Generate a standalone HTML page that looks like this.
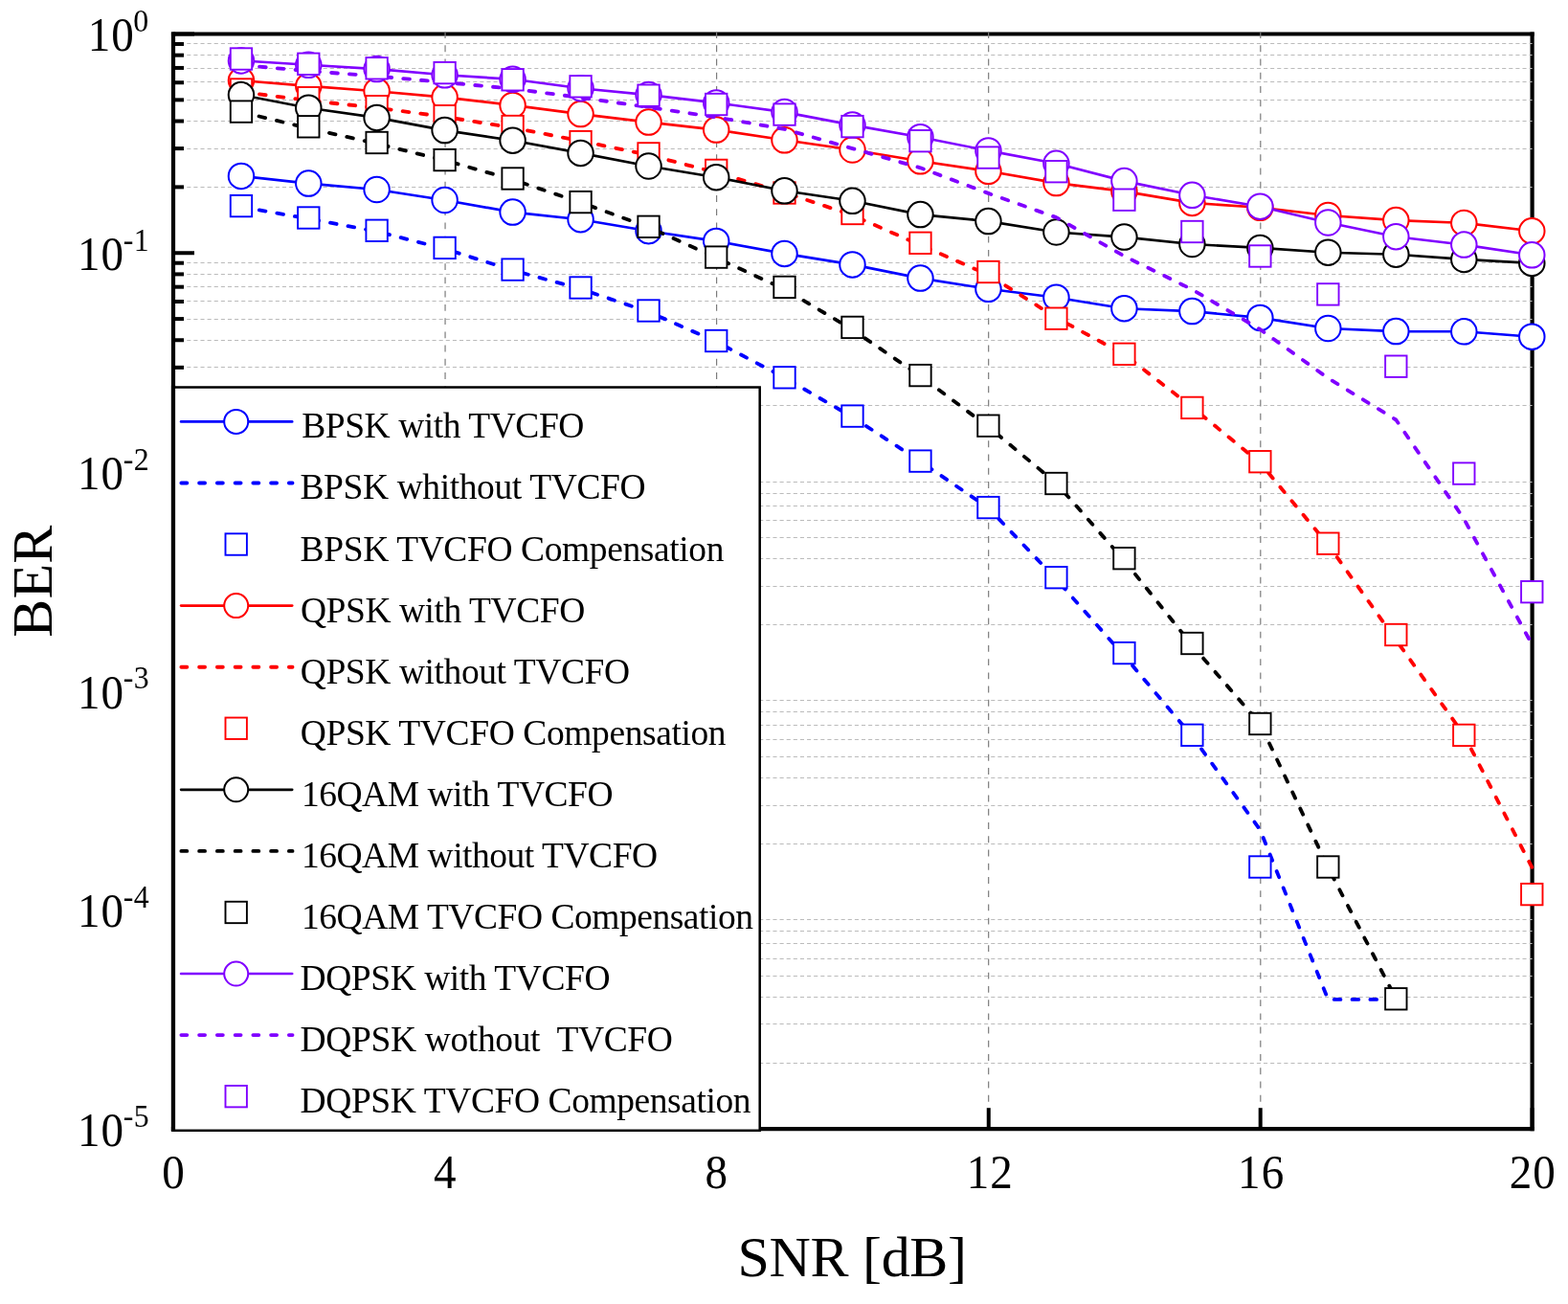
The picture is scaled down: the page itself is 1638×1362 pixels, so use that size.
<!DOCTYPE html>
<html lang="en">
<head>
<meta charset="utf-8">
<title>BER vs SNR</title>
<style>
html,body{margin:0;padding:0;background:#fff;}
body{width:1638px;height:1362px;overflow:hidden;position:relative;}
svg text{font-family:"Liberation Serif","Times New Roman",serif;fill:#000;white-space:pre;}
</style>
</head>
<body>
<svg width="1638" height="1362" viewBox="0 0 1638 1362" style="position:absolute;left:0;top:0;display:block">
<rect x="0" y="0" width="1638" height="1362" fill="#ffffff"/>
<g stroke="#000" stroke-width="4.2" fill="none" stroke-linecap="square">
<line x1="181.0" y1="35.5" x2="1600.6" y2="35.5"/>
<line x1="1600.6" y1="35.5" x2="1600.6" y2="1179.2"/>
</g>
<g stroke="#bbbbbb" stroke-width="1" fill="none" stroke-dasharray="4.1 3.0186">
<line x1="195.24" y1="195.50" x2="1600.6" y2="195.50"/>
<line x1="195.24" y1="155.50" x2="1600.6" y2="155.50"/>
<line x1="195.24" y1="126.50" x2="1600.6" y2="126.50"/>
<line x1="195.24" y1="104.50" x2="1600.6" y2="104.50"/>
<line x1="195.24" y1="85.50" x2="1600.6" y2="85.50"/>
<line x1="195.24" y1="71.50" x2="1600.6" y2="71.50"/>
<line x1="195.24" y1="57.50" x2="1600.6" y2="57.50"/>
<line x1="195.24" y1="45.50" x2="1600.6" y2="45.50"/>
<line x1="195.24" y1="423.50" x2="1600.6" y2="423.50"/>
<line x1="195.24" y1="383.50" x2="1600.6" y2="383.50"/>
<line x1="195.24" y1="355.50" x2="1600.6" y2="355.50"/>
<line x1="195.24" y1="333.50" x2="1600.6" y2="333.50"/>
<line x1="195.24" y1="314.50" x2="1600.6" y2="314.50"/>
<line x1="195.24" y1="299.50" x2="1600.6" y2="299.50"/>
<line x1="195.24" y1="286.50" x2="1600.6" y2="286.50"/>
<line x1="195.24" y1="274.50" x2="1600.6" y2="274.50"/>
<line x1="195.24" y1="652.50" x2="1600.6" y2="652.50"/>
<line x1="195.24" y1="612.50" x2="1600.6" y2="612.50"/>
<line x1="195.24" y1="583.50" x2="1600.6" y2="583.50"/>
<line x1="195.24" y1="561.50" x2="1600.6" y2="561.50"/>
<line x1="195.24" y1="543.50" x2="1600.6" y2="543.50"/>
<line x1="195.24" y1="528.50" x2="1600.6" y2="528.50"/>
<line x1="195.24" y1="515.50" x2="1600.6" y2="515.50"/>
<line x1="195.24" y1="503.50" x2="1600.6" y2="503.50"/>
<line x1="195.24" y1="881.50" x2="1600.6" y2="881.50"/>
<line x1="195.24" y1="841.50" x2="1600.6" y2="841.50"/>
<line x1="195.24" y1="812.50" x2="1600.6" y2="812.50"/>
<line x1="195.24" y1="790.50" x2="1600.6" y2="790.50"/>
<line x1="195.24" y1="772.50" x2="1600.6" y2="772.50"/>
<line x1="195.24" y1="757.50" x2="1600.6" y2="757.50"/>
<line x1="195.24" y1="743.50" x2="1600.6" y2="743.50"/>
<line x1="195.24" y1="731.50" x2="1600.6" y2="731.50"/>
<line x1="195.24" y1="1110.50" x2="1600.6" y2="1110.50"/>
<line x1="195.24" y1="1069.50" x2="1600.6" y2="1069.50"/>
<line x1="195.24" y1="1041.50" x2="1600.6" y2="1041.50"/>
<line x1="195.24" y1="1019.50" x2="1600.6" y2="1019.50"/>
<line x1="195.24" y1="1001.50" x2="1600.6" y2="1001.50"/>
<line x1="195.24" y1="985.50" x2="1600.6" y2="985.50"/>
<line x1="195.24" y1="972.50" x2="1600.6" y2="972.50"/>
<line x1="195.24" y1="960.50" x2="1600.6" y2="960.50"/>
</g>
<g stroke="#7c7c7c" stroke-width="1.2" fill="none" stroke-dasharray="6.9 7.34">
<line x1="465.05" y1="33.1" x2="465.05" y2="1179.2"/>
<line x1="748.60" y1="33.1" x2="748.60" y2="1179.2"/>
<line x1="1032.68" y1="33.1" x2="1032.68" y2="1179.2"/>
<line x1="1316.80" y1="33.1" x2="1316.80" y2="1179.2"/>
</g>
<g stroke="#000" stroke-width="4.2" fill="none" stroke-linecap="square">
<line x1="181.0" y1="1179.2" x2="1600.6" y2="1179.2"/>
<line x1="181.0" y1="35.5" x2="181.0" y2="1179.2"/>
</g>
<g stroke="#000" stroke-width="4.0" fill="none">
<line x1="181.0" y1="35.50" x2="203.0" y2="35.50"/>
<line x1="181.0" y1="195.38" x2="192.0" y2="195.38"/>
<line x1="181.0" y1="155.10" x2="192.0" y2="155.10"/>
<line x1="181.0" y1="126.52" x2="192.0" y2="126.52"/>
<line x1="181.0" y1="104.36" x2="192.0" y2="104.36"/>
<line x1="181.0" y1="86.25" x2="192.0" y2="86.25"/>
<line x1="181.0" y1="70.93" x2="192.0" y2="70.93"/>
<line x1="181.0" y1="57.67" x2="192.0" y2="57.67"/>
<line x1="181.0" y1="45.97" x2="192.0" y2="45.97"/>
<line x1="181.0" y1="264.24" x2="203.0" y2="264.24"/>
<line x1="181.0" y1="424.12" x2="192.0" y2="424.12"/>
<line x1="181.0" y1="383.84" x2="192.0" y2="383.84"/>
<line x1="181.0" y1="355.26" x2="192.0" y2="355.26"/>
<line x1="181.0" y1="333.10" x2="192.0" y2="333.10"/>
<line x1="181.0" y1="314.99" x2="192.0" y2="314.99"/>
<line x1="181.0" y1="299.67" x2="192.0" y2="299.67"/>
<line x1="181.0" y1="286.41" x2="192.0" y2="286.41"/>
<line x1="181.0" y1="274.71" x2="192.0" y2="274.71"/>
<line x1="181.0" y1="492.98" x2="203.0" y2="492.98"/>
<line x1="181.0" y1="652.86" x2="192.0" y2="652.86"/>
<line x1="181.0" y1="612.58" x2="192.0" y2="612.58"/>
<line x1="181.0" y1="584.00" x2="192.0" y2="584.00"/>
<line x1="181.0" y1="561.84" x2="192.0" y2="561.84"/>
<line x1="181.0" y1="543.73" x2="192.0" y2="543.73"/>
<line x1="181.0" y1="528.41" x2="192.0" y2="528.41"/>
<line x1="181.0" y1="515.15" x2="192.0" y2="515.15"/>
<line x1="181.0" y1="503.45" x2="192.0" y2="503.45"/>
<line x1="181.0" y1="721.72" x2="203.0" y2="721.72"/>
<line x1="181.0" y1="881.60" x2="192.0" y2="881.60"/>
<line x1="181.0" y1="841.32" x2="192.0" y2="841.32"/>
<line x1="181.0" y1="812.74" x2="192.0" y2="812.74"/>
<line x1="181.0" y1="790.58" x2="192.0" y2="790.58"/>
<line x1="181.0" y1="772.47" x2="192.0" y2="772.47"/>
<line x1="181.0" y1="757.15" x2="192.0" y2="757.15"/>
<line x1="181.0" y1="743.89" x2="192.0" y2="743.89"/>
<line x1="181.0" y1="732.19" x2="192.0" y2="732.19"/>
<line x1="181.0" y1="950.46" x2="203.0" y2="950.46"/>
<line x1="181.0" y1="1110.34" x2="192.0" y2="1110.34"/>
<line x1="181.0" y1="1070.06" x2="192.0" y2="1070.06"/>
<line x1="181.0" y1="1041.48" x2="192.0" y2="1041.48"/>
<line x1="181.0" y1="1019.32" x2="192.0" y2="1019.32"/>
<line x1="181.0" y1="1001.21" x2="192.0" y2="1001.21"/>
<line x1="181.0" y1="985.89" x2="192.0" y2="985.89"/>
<line x1="181.0" y1="972.63" x2="192.0" y2="972.63"/>
<line x1="181.0" y1="960.93" x2="192.0" y2="960.93"/>
<line x1="181.0" y1="1179.20" x2="203.0" y2="1179.20"/>
<line x1="181.00" y1="1179.2" x2="181.00" y2="1157.2"/>
<line x1="464.92" y1="1179.2" x2="464.92" y2="1157.2"/>
<line x1="748.84" y1="1179.2" x2="748.84" y2="1157.2"/>
<line x1="1032.76" y1="1179.2" x2="1032.76" y2="1157.2"/>
<line x1="1316.68" y1="1179.2" x2="1316.68" y2="1157.2"/>
<line x1="1600.60" y1="1179.2" x2="1600.60" y2="1157.2"/>
</g>
<polyline points="251.98,183.90 322.30,191.60 393.62,198.00 464.60,209.00 535.58,221.60 606.56,229.20 677.54,241.20 748.22,251.90 819.50,264.90 890.48,276.40 961.46,290.60 1032.44,301.80 1103.42,310.70 1174.40,322.20 1245.38,325.10 1316.36,331.90 1387.34,343.00 1458.32,346.10 1529.30,346.30 1600.28,351.70" fill="none" stroke="#0000ff" stroke-width="2.65" stroke-linejoin="round"/>
<circle cx="251.98" cy="183.90" r="13.25" fill="#fff" stroke="#0000ff" stroke-width="2.0"/>
<circle cx="322.30" cy="191.60" r="13.25" fill="#fff" stroke="#0000ff" stroke-width="2.0"/>
<circle cx="393.62" cy="198.00" r="13.25" fill="#fff" stroke="#0000ff" stroke-width="2.0"/>
<circle cx="464.60" cy="209.00" r="13.25" fill="#fff" stroke="#0000ff" stroke-width="2.0"/>
<circle cx="535.58" cy="221.60" r="13.25" fill="#fff" stroke="#0000ff" stroke-width="2.0"/>
<circle cx="606.56" cy="229.20" r="13.25" fill="#fff" stroke="#0000ff" stroke-width="2.0"/>
<circle cx="677.54" cy="241.20" r="13.25" fill="#fff" stroke="#0000ff" stroke-width="2.0"/>
<circle cx="748.22" cy="251.90" r="13.25" fill="#fff" stroke="#0000ff" stroke-width="2.0"/>
<circle cx="819.50" cy="264.90" r="13.25" fill="#fff" stroke="#0000ff" stroke-width="2.0"/>
<circle cx="890.48" cy="276.40" r="13.25" fill="#fff" stroke="#0000ff" stroke-width="2.0"/>
<circle cx="961.46" cy="290.60" r="13.25" fill="#fff" stroke="#0000ff" stroke-width="2.0"/>
<circle cx="1032.44" cy="301.80" r="13.25" fill="#fff" stroke="#0000ff" stroke-width="2.0"/>
<circle cx="1103.42" cy="310.70" r="13.25" fill="#fff" stroke="#0000ff" stroke-width="2.0"/>
<circle cx="1174.40" cy="322.20" r="13.25" fill="#fff" stroke="#0000ff" stroke-width="2.0"/>
<circle cx="1245.38" cy="325.10" r="13.25" fill="#fff" stroke="#0000ff" stroke-width="2.0"/>
<circle cx="1316.36" cy="331.90" r="13.25" fill="#fff" stroke="#0000ff" stroke-width="2.0"/>
<circle cx="1387.34" cy="343.00" r="13.25" fill="#fff" stroke="#0000ff" stroke-width="2.0"/>
<circle cx="1458.32" cy="346.10" r="13.25" fill="#fff" stroke="#0000ff" stroke-width="2.0"/>
<circle cx="1529.30" cy="346.30" r="13.25" fill="#fff" stroke="#0000ff" stroke-width="2.0"/>
<circle cx="1600.28" cy="351.70" r="13.25" fill="#fff" stroke="#0000ff" stroke-width="2.0"/>
<polyline points="251.98,216.00 322.30,228.50 393.62,241.80 464.60,259.90 535.58,282.30 606.56,301.80 677.54,325.70 748.22,356.90 819.50,394.50 890.48,435.60 961.46,482.00 1032.44,530.50 1103.42,605.00 1174.40,685.00 1245.38,769.00 1316.36,866.70 1387.34,1043.90 1458.32,1043.90" fill="none" stroke="#0000ff" stroke-width="3.85" stroke-dasharray="6.7 12.14" stroke-dashoffset="-0.3" stroke-linecap="round" stroke-linejoin="round"/>
<rect x="240.78" y="203.90" width="22.4" height="22.4" fill="#fff" stroke="#0000ff" stroke-width="1.9"/>
<rect x="311.10" y="216.30" width="22.4" height="22.4" fill="#fff" stroke="#0000ff" stroke-width="1.9"/>
<rect x="382.42" y="229.60" width="22.4" height="22.4" fill="#fff" stroke="#0000ff" stroke-width="1.9"/>
<rect x="453.40" y="247.70" width="22.4" height="22.4" fill="#fff" stroke="#0000ff" stroke-width="1.9"/>
<rect x="524.38" y="270.40" width="22.4" height="22.4" fill="#fff" stroke="#0000ff" stroke-width="1.9"/>
<rect x="595.36" y="289.30" width="22.4" height="22.4" fill="#fff" stroke="#0000ff" stroke-width="1.9"/>
<rect x="666.34" y="313.30" width="22.4" height="22.4" fill="#fff" stroke="#0000ff" stroke-width="1.9"/>
<rect x="737.02" y="344.80" width="22.4" height="22.4" fill="#fff" stroke="#0000ff" stroke-width="1.9"/>
<rect x="808.30" y="383.10" width="22.4" height="22.4" fill="#fff" stroke="#0000ff" stroke-width="1.9"/>
<rect x="879.28" y="423.40" width="22.4" height="22.4" fill="#fff" stroke="#0000ff" stroke-width="1.9"/>
<rect x="950.26" y="470.40" width="22.4" height="22.4" fill="#fff" stroke="#0000ff" stroke-width="1.9"/>
<rect x="1021.24" y="518.90" width="22.4" height="22.4" fill="#fff" stroke="#0000ff" stroke-width="1.9"/>
<rect x="1092.22" y="592.00" width="22.4" height="22.4" fill="#fff" stroke="#0000ff" stroke-width="1.9"/>
<rect x="1163.20" y="670.90" width="22.4" height="22.4" fill="#fff" stroke="#0000ff" stroke-width="1.9"/>
<rect x="1234.18" y="756.60" width="22.4" height="22.4" fill="#fff" stroke="#0000ff" stroke-width="1.9"/>
<rect x="1305.16" y="894.30" width="22.4" height="22.4" fill="#fff" stroke="#0000ff" stroke-width="1.9"/>
<polyline points="251.98,84.10 322.30,89.90 393.62,95.20 464.60,101.60 535.58,109.90 606.56,119.10 677.54,127.60 748.22,135.60 819.50,146.30 890.48,156.50 961.46,168.30 1032.44,178.80 1103.42,191.10 1174.40,199.90 1245.38,211.90 1316.36,216.80 1387.34,225.00 1458.32,230.10 1529.30,232.90 1600.28,241.30" fill="none" stroke="#ff0000" stroke-width="2.65" stroke-linejoin="round"/>
<circle cx="251.98" cy="84.10" r="13.25" fill="#fff" stroke="#ff0000" stroke-width="2.0"/>
<circle cx="322.30" cy="89.90" r="13.25" fill="#fff" stroke="#ff0000" stroke-width="2.0"/>
<circle cx="393.62" cy="95.20" r="13.25" fill="#fff" stroke="#ff0000" stroke-width="2.0"/>
<circle cx="464.60" cy="101.60" r="13.25" fill="#fff" stroke="#ff0000" stroke-width="2.0"/>
<circle cx="535.58" cy="109.90" r="13.25" fill="#fff" stroke="#ff0000" stroke-width="2.0"/>
<circle cx="606.56" cy="119.10" r="13.25" fill="#fff" stroke="#ff0000" stroke-width="2.0"/>
<circle cx="677.54" cy="127.60" r="13.25" fill="#fff" stroke="#ff0000" stroke-width="2.0"/>
<circle cx="748.22" cy="135.60" r="13.25" fill="#fff" stroke="#ff0000" stroke-width="2.0"/>
<circle cx="819.50" cy="146.30" r="13.25" fill="#fff" stroke="#ff0000" stroke-width="2.0"/>
<circle cx="890.48" cy="156.50" r="13.25" fill="#fff" stroke="#ff0000" stroke-width="2.0"/>
<circle cx="961.46" cy="168.30" r="13.25" fill="#fff" stroke="#ff0000" stroke-width="2.0"/>
<circle cx="1032.44" cy="178.80" r="13.25" fill="#fff" stroke="#ff0000" stroke-width="2.0"/>
<circle cx="1103.42" cy="191.10" r="13.25" fill="#fff" stroke="#ff0000" stroke-width="2.0"/>
<circle cx="1174.40" cy="199.90" r="13.25" fill="#fff" stroke="#ff0000" stroke-width="2.0"/>
<circle cx="1245.38" cy="211.90" r="13.25" fill="#fff" stroke="#ff0000" stroke-width="2.0"/>
<circle cx="1316.36" cy="216.80" r="13.25" fill="#fff" stroke="#ff0000" stroke-width="2.0"/>
<circle cx="1387.34" cy="225.00" r="13.25" fill="#fff" stroke="#ff0000" stroke-width="2.0"/>
<circle cx="1458.32" cy="230.10" r="13.25" fill="#fff" stroke="#ff0000" stroke-width="2.0"/>
<circle cx="1529.30" cy="232.90" r="13.25" fill="#fff" stroke="#ff0000" stroke-width="2.0"/>
<circle cx="1600.28" cy="241.30" r="13.25" fill="#fff" stroke="#ff0000" stroke-width="2.0"/>
<polyline points="251.98,96.00 322.30,105.00 393.62,112.60 464.60,122.00 535.58,133.40 606.56,147.20 677.54,161.90 748.22,180.20 819.50,201.00 890.48,224.80 961.46,256.00 1032.44,287.00 1103.42,331.80 1174.40,370.30 1245.38,425.20 1316.36,483.50 1387.34,568.80 1458.32,668.40 1529.30,767.50 1600.28,905.80" fill="none" stroke="#ff0000" stroke-width="3.85" stroke-dasharray="6.7 12.14" stroke-dashoffset="-0.3" stroke-linecap="round" stroke-linejoin="round"/>
<rect x="240.78" y="82.30" width="22.4" height="22.4" fill="#fff" stroke="#ff0000" stroke-width="1.9"/>
<rect x="311.10" y="91.00" width="22.4" height="22.4" fill="#fff" stroke="#ff0000" stroke-width="1.9"/>
<rect x="382.42" y="100.00" width="22.4" height="22.4" fill="#fff" stroke="#ff0000" stroke-width="1.9"/>
<rect x="453.40" y="110.00" width="22.4" height="22.4" fill="#fff" stroke="#ff0000" stroke-width="1.9"/>
<rect x="524.38" y="120.80" width="22.4" height="22.4" fill="#fff" stroke="#ff0000" stroke-width="1.9"/>
<rect x="595.36" y="136.90" width="22.4" height="22.4" fill="#fff" stroke="#ff0000" stroke-width="1.9"/>
<rect x="666.34" y="149.20" width="22.4" height="22.4" fill="#fff" stroke="#ff0000" stroke-width="1.9"/>
<rect x="737.02" y="166.70" width="22.4" height="22.4" fill="#fff" stroke="#ff0000" stroke-width="1.9"/>
<rect x="808.30" y="190.30" width="22.4" height="22.4" fill="#fff" stroke="#ff0000" stroke-width="1.9"/>
<rect x="879.28" y="211.80" width="22.4" height="22.4" fill="#fff" stroke="#ff0000" stroke-width="1.9"/>
<rect x="950.26" y="242.60" width="22.4" height="22.4" fill="#fff" stroke="#ff0000" stroke-width="1.9"/>
<rect x="1021.24" y="272.80" width="22.4" height="22.4" fill="#fff" stroke="#ff0000" stroke-width="1.9"/>
<rect x="1092.22" y="321.50" width="22.4" height="22.4" fill="#fff" stroke="#ff0000" stroke-width="1.9"/>
<rect x="1163.20" y="358.60" width="22.4" height="22.4" fill="#fff" stroke="#ff0000" stroke-width="1.9"/>
<rect x="1234.18" y="414.70" width="22.4" height="22.4" fill="#fff" stroke="#ff0000" stroke-width="1.9"/>
<rect x="1305.16" y="471.00" width="22.4" height="22.4" fill="#fff" stroke="#ff0000" stroke-width="1.9"/>
<rect x="1376.14" y="556.50" width="22.4" height="22.4" fill="#fff" stroke="#ff0000" stroke-width="1.9"/>
<rect x="1447.12" y="651.80" width="22.4" height="22.4" fill="#fff" stroke="#ff0000" stroke-width="1.9"/>
<rect x="1518.10" y="756.70" width="22.4" height="22.4" fill="#fff" stroke="#ff0000" stroke-width="1.9"/>
<rect x="1589.08" y="922.90" width="22.4" height="22.4" fill="#fff" stroke="#ff0000" stroke-width="1.9"/>
<polyline points="251.98,99.10 322.30,112.70 393.62,122.90 464.60,136.10 535.58,146.70 606.56,159.90 677.54,173.50 748.22,185.20 819.50,199.30 890.48,209.80 961.46,224.10 1032.44,231.10 1103.42,242.50 1174.40,247.60 1245.38,255.00 1316.36,258.90 1387.34,263.70 1458.32,265.70 1529.30,270.90 1600.28,274.90" fill="none" stroke="#000000" stroke-width="2.65" stroke-linejoin="round"/>
<circle cx="251.98" cy="99.10" r="13.25" fill="#fff" stroke="#000000" stroke-width="2.0"/>
<circle cx="322.30" cy="112.70" r="13.25" fill="#fff" stroke="#000000" stroke-width="2.0"/>
<circle cx="393.62" cy="122.90" r="13.25" fill="#fff" stroke="#000000" stroke-width="2.0"/>
<circle cx="464.60" cy="136.10" r="13.25" fill="#fff" stroke="#000000" stroke-width="2.0"/>
<circle cx="535.58" cy="146.70" r="13.25" fill="#fff" stroke="#000000" stroke-width="2.0"/>
<circle cx="606.56" cy="159.90" r="13.25" fill="#fff" stroke="#000000" stroke-width="2.0"/>
<circle cx="677.54" cy="173.50" r="13.25" fill="#fff" stroke="#000000" stroke-width="2.0"/>
<circle cx="748.22" cy="185.20" r="13.25" fill="#fff" stroke="#000000" stroke-width="2.0"/>
<circle cx="819.50" cy="199.30" r="13.25" fill="#fff" stroke="#000000" stroke-width="2.0"/>
<circle cx="890.48" cy="209.80" r="13.25" fill="#fff" stroke="#000000" stroke-width="2.0"/>
<circle cx="961.46" cy="224.10" r="13.25" fill="#fff" stroke="#000000" stroke-width="2.0"/>
<circle cx="1032.44" cy="231.10" r="13.25" fill="#fff" stroke="#000000" stroke-width="2.0"/>
<circle cx="1103.42" cy="242.50" r="13.25" fill="#fff" stroke="#000000" stroke-width="2.0"/>
<circle cx="1174.40" cy="247.60" r="13.25" fill="#fff" stroke="#000000" stroke-width="2.0"/>
<circle cx="1245.38" cy="255.00" r="13.25" fill="#fff" stroke="#000000" stroke-width="2.0"/>
<circle cx="1316.36" cy="258.90" r="13.25" fill="#fff" stroke="#000000" stroke-width="2.0"/>
<circle cx="1387.34" cy="263.70" r="13.25" fill="#fff" stroke="#000000" stroke-width="2.0"/>
<circle cx="1458.32" cy="265.70" r="13.25" fill="#fff" stroke="#000000" stroke-width="2.0"/>
<circle cx="1529.30" cy="270.90" r="13.25" fill="#fff" stroke="#000000" stroke-width="2.0"/>
<circle cx="1600.28" cy="274.90" r="13.25" fill="#fff" stroke="#000000" stroke-width="2.0"/>
<polyline points="251.98,117.00 322.30,134.00 393.62,150.00 464.60,167.50 535.58,187.60 606.56,211.50 677.54,237.20 748.22,269.30 819.50,302.00 890.48,344.30 961.46,392.80 1032.44,445.80 1103.42,504.60 1174.40,585.40 1245.38,674.00 1316.36,756.00 1387.34,906.00 1458.32,1043.30" fill="none" stroke="#000000" stroke-width="3.85" stroke-dasharray="6.7 12.14" stroke-dashoffset="-0.3" stroke-linecap="round" stroke-linejoin="round"/>
<rect x="240.78" y="105.40" width="22.4" height="22.4" fill="#fff" stroke="#000000" stroke-width="1.9"/>
<rect x="311.10" y="121.10" width="22.4" height="22.4" fill="#fff" stroke="#000000" stroke-width="1.9"/>
<rect x="382.42" y="137.80" width="22.4" height="22.4" fill="#fff" stroke="#000000" stroke-width="1.9"/>
<rect x="453.40" y="155.90" width="22.4" height="22.4" fill="#fff" stroke="#000000" stroke-width="1.9"/>
<rect x="524.38" y="175.30" width="22.4" height="22.4" fill="#fff" stroke="#000000" stroke-width="1.9"/>
<rect x="595.36" y="199.90" width="22.4" height="22.4" fill="#fff" stroke="#000000" stroke-width="1.9"/>
<rect x="666.34" y="225.60" width="22.4" height="22.4" fill="#fff" stroke="#000000" stroke-width="1.9"/>
<rect x="737.02" y="257.40" width="22.4" height="22.4" fill="#fff" stroke="#000000" stroke-width="1.9"/>
<rect x="808.30" y="288.70" width="22.4" height="22.4" fill="#fff" stroke="#000000" stroke-width="1.9"/>
<rect x="879.28" y="330.70" width="22.4" height="22.4" fill="#fff" stroke="#000000" stroke-width="1.9"/>
<rect x="950.26" y="380.90" width="22.4" height="22.4" fill="#fff" stroke="#000000" stroke-width="1.9"/>
<rect x="1021.24" y="433.50" width="22.4" height="22.4" fill="#fff" stroke="#000000" stroke-width="1.9"/>
<rect x="1092.22" y="493.80" width="22.4" height="22.4" fill="#fff" stroke="#000000" stroke-width="1.9"/>
<rect x="1163.20" y="572.00" width="22.4" height="22.4" fill="#fff" stroke="#000000" stroke-width="1.9"/>
<rect x="1234.18" y="660.80" width="22.4" height="22.4" fill="#fff" stroke="#000000" stroke-width="1.9"/>
<rect x="1305.16" y="744.80" width="22.4" height="22.4" fill="#fff" stroke="#000000" stroke-width="1.9"/>
<rect x="1376.14" y="894.30" width="22.4" height="22.4" fill="#fff" stroke="#000000" stroke-width="1.9"/>
<rect x="1447.12" y="1032.10" width="22.4" height="22.4" fill="#fff" stroke="#000000" stroke-width="1.9"/>
<polyline points="251.98,63.40 322.30,67.80 393.62,72.10 464.60,78.30 535.58,82.80 606.56,92.20 677.54,99.10 748.22,107.40 819.50,117.10 890.48,130.60 961.46,143.20 1032.44,157.40 1103.42,170.80 1174.40,189.10 1245.38,203.80 1316.36,215.70 1387.34,232.50 1458.32,247.20 1529.30,255.60 1600.28,266.30" fill="none" stroke="#8000ff" stroke-width="2.65" stroke-linejoin="round"/>
<circle cx="251.98" cy="63.40" r="13.25" fill="#fff" stroke="#8000ff" stroke-width="2.0"/>
<circle cx="322.30" cy="67.80" r="13.25" fill="#fff" stroke="#8000ff" stroke-width="2.0"/>
<circle cx="393.62" cy="72.10" r="13.25" fill="#fff" stroke="#8000ff" stroke-width="2.0"/>
<circle cx="464.60" cy="78.30" r="13.25" fill="#fff" stroke="#8000ff" stroke-width="2.0"/>
<circle cx="535.58" cy="82.80" r="13.25" fill="#fff" stroke="#8000ff" stroke-width="2.0"/>
<circle cx="606.56" cy="92.20" r="13.25" fill="#fff" stroke="#8000ff" stroke-width="2.0"/>
<circle cx="677.54" cy="99.10" r="13.25" fill="#fff" stroke="#8000ff" stroke-width="2.0"/>
<circle cx="748.22" cy="107.40" r="13.25" fill="#fff" stroke="#8000ff" stroke-width="2.0"/>
<circle cx="819.50" cy="117.10" r="13.25" fill="#fff" stroke="#8000ff" stroke-width="2.0"/>
<circle cx="890.48" cy="130.60" r="13.25" fill="#fff" stroke="#8000ff" stroke-width="2.0"/>
<circle cx="961.46" cy="143.20" r="13.25" fill="#fff" stroke="#8000ff" stroke-width="2.0"/>
<circle cx="1032.44" cy="157.40" r="13.25" fill="#fff" stroke="#8000ff" stroke-width="2.0"/>
<circle cx="1103.42" cy="170.80" r="13.25" fill="#fff" stroke="#8000ff" stroke-width="2.0"/>
<circle cx="1174.40" cy="189.10" r="13.25" fill="#fff" stroke="#8000ff" stroke-width="2.0"/>
<circle cx="1245.38" cy="203.80" r="13.25" fill="#fff" stroke="#8000ff" stroke-width="2.0"/>
<circle cx="1316.36" cy="215.70" r="13.25" fill="#fff" stroke="#8000ff" stroke-width="2.0"/>
<circle cx="1387.34" cy="232.50" r="13.25" fill="#fff" stroke="#8000ff" stroke-width="2.0"/>
<circle cx="1458.32" cy="247.20" r="13.25" fill="#fff" stroke="#8000ff" stroke-width="2.0"/>
<circle cx="1529.30" cy="255.60" r="13.25" fill="#fff" stroke="#8000ff" stroke-width="2.0"/>
<circle cx="1600.28" cy="266.30" r="13.25" fill="#fff" stroke="#8000ff" stroke-width="2.0"/>
<polyline points="251.98,68.00 322.30,74.20 393.62,79.60 464.60,86.00 535.58,92.70 606.56,101.90 677.54,112.00 748.22,122.40 819.50,134.90 890.48,155.10 961.46,175.30 1032.44,201.90 1103.42,227.10 1174.40,267.50 1245.38,302.40 1316.36,344.00 1387.34,395.00 1458.32,438.50 1529.30,542.00 1600.28,673.00" fill="none" stroke="#8000ff" stroke-width="3.85" stroke-dasharray="6.7 12.14" stroke-dashoffset="-0.3" stroke-linecap="round" stroke-linejoin="round"/>
<rect x="240.78" y="50.30" width="22.4" height="22.4" fill="#fff" stroke="#8000ff" stroke-width="1.9"/>
<rect x="311.10" y="55.60" width="22.4" height="22.4" fill="#fff" stroke="#8000ff" stroke-width="1.9"/>
<rect x="382.42" y="60.10" width="22.4" height="22.4" fill="#fff" stroke="#8000ff" stroke-width="1.9"/>
<rect x="453.40" y="64.90" width="22.4" height="22.4" fill="#fff" stroke="#8000ff" stroke-width="1.9"/>
<rect x="524.38" y="72.10" width="22.4" height="22.4" fill="#fff" stroke="#8000ff" stroke-width="1.9"/>
<rect x="595.36" y="79.10" width="22.4" height="22.4" fill="#fff" stroke="#8000ff" stroke-width="1.9"/>
<rect x="666.34" y="88.50" width="22.4" height="22.4" fill="#fff" stroke="#8000ff" stroke-width="1.9"/>
<rect x="737.02" y="97.80" width="22.4" height="22.4" fill="#fff" stroke="#8000ff" stroke-width="1.9"/>
<rect x="808.30" y="108.40" width="22.4" height="22.4" fill="#fff" stroke="#8000ff" stroke-width="1.9"/>
<rect x="879.28" y="120.90" width="22.4" height="22.4" fill="#fff" stroke="#8000ff" stroke-width="1.9"/>
<rect x="950.26" y="136.00" width="22.4" height="22.4" fill="#fff" stroke="#8000ff" stroke-width="1.9"/>
<rect x="1021.24" y="153.40" width="22.4" height="22.4" fill="#fff" stroke="#8000ff" stroke-width="1.9"/>
<rect x="1092.22" y="168.00" width="22.4" height="22.4" fill="#fff" stroke="#8000ff" stroke-width="1.9"/>
<rect x="1163.20" y="197.50" width="22.4" height="22.4" fill="#fff" stroke="#8000ff" stroke-width="1.9"/>
<rect x="1234.18" y="230.80" width="22.4" height="22.4" fill="#fff" stroke="#8000ff" stroke-width="1.9"/>
<rect x="1305.16" y="256.30" width="22.4" height="22.4" fill="#fff" stroke="#8000ff" stroke-width="1.9"/>
<rect x="1376.14" y="296.20" width="22.4" height="22.4" fill="#fff" stroke="#8000ff" stroke-width="1.9"/>
<rect x="1447.12" y="371.50" width="22.4" height="22.4" fill="#fff" stroke="#8000ff" stroke-width="1.9"/>
<rect x="1518.10" y="483.40" width="22.4" height="22.4" fill="#fff" stroke="#8000ff" stroke-width="1.9"/>
<rect x="1589.08" y="607.00" width="22.4" height="22.4" fill="#fff" stroke="#8000ff" stroke-width="1.9"/>
<rect x="181.0" y="404.5" width="612.7" height="776.3" fill="#fff" stroke="#000" stroke-width="2.5"/>
<line x1="181.0" y1="402.5" x2="181.0" y2="1182.05" stroke="#000" stroke-width="4.2"/>
<line x1="189.1" y1="440.40" x2="305.2" y2="440.40" stroke="#0000ff" stroke-width="2.65" stroke-linecap="round"/>
<circle cx="246.7" cy="440.40" r="12.5" fill="#fff" stroke="#0000ff" stroke-width="2.0"/>
<text x="315.27" y="457.40" font-size="37.5" textLength="295.12" xml:space="preserve">BPSK with TVCFO</text>
<line x1="189.4" y1="504.47" x2="305.5" y2="504.47" stroke="#0000ff" stroke-width="3.9" stroke-dasharray="5.9 12.85" stroke-linecap="round"/>
<text x="313.38" y="521.47" font-size="37.5" textLength="361.22" xml:space="preserve">BPSK whithout TVCFO</text>
<rect x="235.50" y="557.34" width="22.4" height="22.4" fill="#fff" stroke="#0000ff" stroke-width="1.9"/>
<text x="313.59" y="585.54" font-size="37.5" textLength="442.8" xml:space="preserve">BPSK TVCFO Compensation</text>
<line x1="189.1" y1="632.61" x2="305.2" y2="632.61" stroke="#ff0000" stroke-width="2.65" stroke-linecap="round"/>
<circle cx="246.7" cy="632.61" r="12.5" fill="#fff" stroke="#ff0000" stroke-width="2.0"/>
<text x="313.94" y="649.61" font-size="37.5" textLength="297.36" xml:space="preserve">QPSK with TVCFO</text>
<line x1="189.4" y1="696.68" x2="305.5" y2="696.68" stroke="#ff0000" stroke-width="3.9" stroke-dasharray="5.9 12.85" stroke-linecap="round"/>
<text x="313.72" y="713.68" font-size="37.5" textLength="344.42" xml:space="preserve">QPSK without TVCFO</text>
<rect x="235.50" y="749.55" width="22.4" height="22.4" fill="#fff" stroke="#ff0000" stroke-width="1.9"/>
<text x="313.72" y="777.75" font-size="37.5" textLength="444.89" xml:space="preserve">QPSK TVCFO Compensation</text>
<line x1="189.1" y1="824.82" x2="305.2" y2="824.82" stroke="#000000" stroke-width="2.65" stroke-linecap="round"/>
<circle cx="246.7" cy="824.82" r="12.5" fill="#fff" stroke="#000000" stroke-width="2.0"/>
<text x="314.95" y="841.82" font-size="37.5" textLength="325.55" xml:space="preserve">16QAM with TVCFO</text>
<line x1="189.4" y1="888.89" x2="305.5" y2="888.89" stroke="#000000" stroke-width="3.9" stroke-dasharray="5.9 12.85" stroke-linecap="round"/>
<text x="314.95" y="905.89" font-size="37.5" textLength="372.19" xml:space="preserve">16QAM without TVCFO</text>
<rect x="235.50" y="941.76" width="22.4" height="22.4" fill="#fff" stroke="#000000" stroke-width="1.9"/>
<text x="314.95" y="969.96" font-size="37.5" textLength="472.04" xml:space="preserve">16QAM TVCFO Compensation</text>
<line x1="189.1" y1="1017.03" x2="305.2" y2="1017.03" stroke="#8000ff" stroke-width="2.65" stroke-linecap="round"/>
<circle cx="246.7" cy="1017.03" r="12.5" fill="#fff" stroke="#8000ff" stroke-width="2.0"/>
<text x="313.59" y="1034.03" font-size="37.5" textLength="323.89" xml:space="preserve">DQPSK with TVCFO</text>
<line x1="189.4" y1="1081.10" x2="305.5" y2="1081.10" stroke="#8000ff" stroke-width="3.9" stroke-dasharray="5.9 12.85" stroke-linecap="round"/>
<text x="313.59" y="1098.10" font-size="37.5" textLength="389.3" xml:space="preserve">DQPSK wothout  TVCFO</text>
<rect x="235.50" y="1133.97" width="22.4" height="22.4" fill="#fff" stroke="#8000ff" stroke-width="1.9"/>
<text x="313.59" y="1162.17" font-size="37.5" textLength="470.98" xml:space="preserve">DQPSK TVCFO Compensation</text>
<text transform="translate(169.27,1240.70) scale(0.95,1)" font-size="49.6" text-anchor="start" letter-spacing="0">0</text>
<text transform="translate(453.11,1240.70) scale(0.95,1)" font-size="49.6" text-anchor="start" letter-spacing="0">4</text>
<text transform="translate(736.56,1240.70) scale(0.95,1)" font-size="49.6" text-anchor="start" letter-spacing="0">8</text>
<text transform="translate(1009.69,1240.70) scale(0.95,1)" font-size="49.6" text-anchor="start" letter-spacing="1.1">12</text>
<text transform="translate(1293.11,1240.70) scale(0.95,1)" font-size="49.6" text-anchor="start" letter-spacing="1.1">16</text>
<text transform="translate(1576.75,1240.70) scale(0.95,1)" font-size="49.6" text-anchor="start" letter-spacing="1.1">20</text>
<text transform="translate(91.73,53.30) scale(0.95,1)" font-size="49.6" text-anchor="start" letter-spacing="1.1">10</text>
<text transform="translate(139.36,33.20) scale(0.95,1)" font-size="33.6" text-anchor="start" letter-spacing="0.6">0</text>
<text transform="translate(80.88,282.04) scale(0.95,1)" font-size="49.6" text-anchor="start" letter-spacing="1.1">10</text>
<text transform="translate(128.65,261.94) scale(0.95,1)" font-size="33.6" text-anchor="start" letter-spacing="0.6">-1</text>
<text transform="translate(80.88,510.78) scale(0.95,1)" font-size="49.6" text-anchor="start" letter-spacing="1.1">10</text>
<text transform="translate(128.65,490.68) scale(0.95,1)" font-size="33.6" text-anchor="start" letter-spacing="0.6">-2</text>
<text transform="translate(80.88,739.52) scale(0.95,1)" font-size="49.6" text-anchor="start" letter-spacing="1.1">10</text>
<text transform="translate(128.65,719.42) scale(0.95,1)" font-size="33.6" text-anchor="start" letter-spacing="0.6">-3</text>
<text transform="translate(80.88,968.26) scale(0.95,1)" font-size="49.6" text-anchor="start" letter-spacing="1.1">10</text>
<text transform="translate(128.65,948.16) scale(0.95,1)" font-size="33.6" text-anchor="start" letter-spacing="0.6">-4</text>
<text transform="translate(80.88,1197.00) scale(0.95,1)" font-size="49.6" text-anchor="start" letter-spacing="1.1">10</text>
<text transform="translate(128.65,1176.90) scale(0.95,1)" font-size="33.6" text-anchor="start" letter-spacing="0.6">-5</text>
<text x="770.47" y="1332.6" font-size="60" textLength="239.59">SNR [dB]</text>
<text transform="translate(54.1,665.75) rotate(-90)" font-size="60" textLength="117.0">BER</text>
</svg>
</body>
</html>
